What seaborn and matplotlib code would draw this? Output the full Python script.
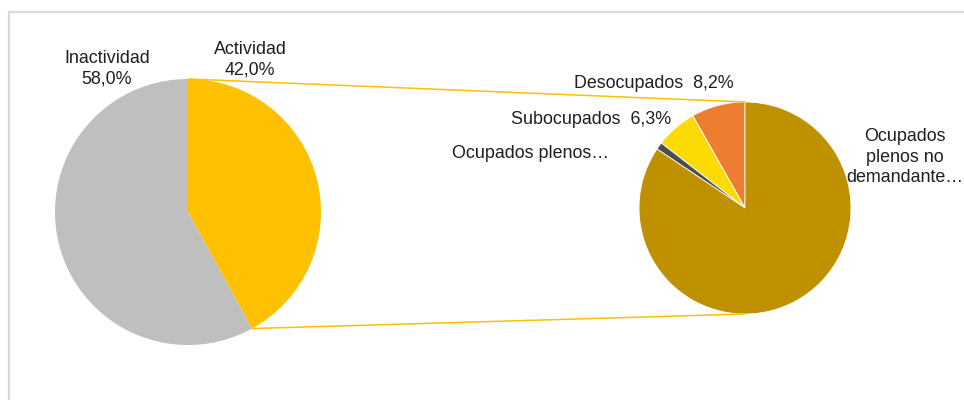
import numpy as np
import matplotlib
matplotlib.use("Agg")
import matplotlib.pyplot as plt
import seaborn as sns

# main pie: population split
main_labels = ["Actividad", "Inactividad"]
main_values = [42.0, 58.0]
main_colors = ["#FFC000", "#BFBFBF"]

# secondary pie: breakdown of active population (counter-clockwise from top)
sub_labels = ["Desocupados", "Subocupados", "Ocupados plenos demandantes",
              "Ocupados plenos no demandantes"]
sub_values = [8.2, 6.3, 1.1, 84.4]
sub_colors = ["#ED7D31", "#FBDA06", "#4D4D4D", "#BF9000"]

sns.set_theme(style="white")
plt.rcParams["font.family"] = ["Liberation Sans", "DejaVu Sans"]

W, H = 964, 400
fig = plt.figure(figsize=(W / 100, H / 100), dpi=100)
ax = fig.add_axes([0, 0, 1, 1])

txt = "#1F1F1F"
fs = 12.9

# chart border
ax.plot([9, 9, W + 5], [-5, 388, 388], color="#D9D9D9", lw=1.6, solid_joinstyle="miter")

c1, r1 = (188, 188), 133
c2, r2 = (745, 192), 106

ax.pie(main_values, colors=main_colors, startangle=90, counterclock=False,
       center=c1, radius=r1, wedgeprops=dict(linewidth=0), frame=True)
ax.pie(sub_values, colors=sub_colors, startangle=90, counterclock=True,
       center=c2, radius=r2, wedgeprops=dict(linewidth=0.6, edgecolor="white"), frame=True)
ax.set_xlim(0, W)
ax.set_ylim(0, H)
ax.set_aspect("equal")
ax.axis("off")

# connector lines between pies
end_ang = np.deg2rad(90 - 360 * main_values[0] / sum(main_values))
p_end = (c1[0] + r1 * np.cos(end_ang), c1[1] + r1 * np.sin(end_ang))
ax.plot([c1[0], c2[0]], [c1[1] + r1, c2[1] + r2], color="#FFC000", lw=1.1)
ax.plot([p_end[0], c2[0]], [p_end[1], c2[1] - r2], color="#FFC000", lw=1.1)

# labels
fmt = lambda v: f"{v:.1f}".replace(".", ",") + "%"
ls = 1.3
ax.text(107, 331, f"{main_labels[1]}\n{fmt(main_values[1])}", ha="center", va="center",
        fontsize=fs, color=txt, linespacing=ls)
ax.text(250, 340, f"{main_labels[0]}\n{fmt(main_values[0])}", ha="center", va="center",
        fontsize=fs, color=txt, linespacing=ls)
ax.text(654, 317, f"{sub_labels[0]}  {fmt(sub_values[0])}", ha="center", va="center",
        fontsize=fs, color=txt)
ax.text(591, 280, f"{sub_labels[1]}  {fmt(sub_values[1])}", ha="center", va="center",
        fontsize=fs, color=txt)
ax.text(530, 247, "Ocupados plenos…", ha="center", va="center", fontsize=fs, color=txt)
ax.text(905, 243, "Ocupados\nplenos no\ndemandante…", ha="center", va="center",
        fontsize=fs, color=txt, linespacing=ls)

fig.savefig("out.png", dpi=100, facecolor="white")
